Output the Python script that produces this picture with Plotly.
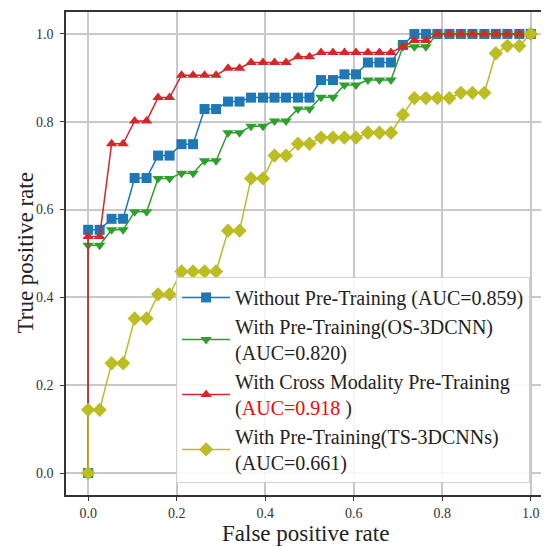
import plotly.graph_objects as go

fpr = [0, 0, 0.026, 0.053, 0.079, 0.105, 0.132, 0.158, 0.184, 0.211, 0.237,
       0.263, 0.289, 0.316, 0.342, 0.368, 0.395, 0.421, 0.447, 0.474, 0.5,
       0.526, 0.553, 0.579, 0.605, 0.632, 0.658, 0.684, 0.711, 0.737, 0.763,
       0.789, 0.816, 0.842, 0.868, 0.895, 0.921, 0.947, 0.974, 1.0]

tpr_without = [0, 0.554, 0.554, 0.579, 0.579, 0.672, 0.672, 0.723, 0.723, 0.749, 0.749,
               0.829, 0.829, 0.846, 0.846, 0.855, 0.855, 0.855, 0.855, 0.855, 0.855,
               0.895, 0.895, 0.908, 0.908, 0.935, 0.935, 0.935, 0.975, 1.0, 1.0,
               1.0, 1.0, 1.0, 1.0, 1.0, 1.0, 1.0, 1.0, 1.0]

tpr_os = [0, 0.519, 0.519, 0.554, 0.554, 0.595, 0.595, 0.671, 0.671, 0.683, 0.683,
          0.711, 0.711, 0.775, 0.775, 0.790, 0.790, 0.802, 0.802, 0.829, 0.829,
          0.856, 0.856, 0.884, 0.884, 0.895, 0.895, 0.895, 0.971, 0.971, 0.971,
          1.0, 1.0, 1.0, 1.0, 1.0, 1.0, 1.0, 1.0, 1.0]

tpr_cross = [0, 0.539, 0.539, 0.750, 0.750, 0.802, 0.802, 0.855, 0.855, 0.906, 0.906,
             0.906, 0.906, 0.922, 0.922, 0.935, 0.935, 0.935, 0.935, 0.948, 0.948,
             0.958, 0.958, 0.958, 0.958, 0.958, 0.958, 0.958, 0.971, 0.985, 0.985,
             1.0, 1.0, 1.0, 1.0, 1.0, 1.0, 1.0, 1.0, 1.0]

tpr_ts = [0, 0.144, 0.144, 0.250, 0.250, 0.352, 0.352, 0.407, 0.407, 0.459, 0.459,
          0.459, 0.459, 0.552, 0.552, 0.671, 0.671, 0.723, 0.723, 0.750, 0.750,
          0.764, 0.764, 0.764, 0.764, 0.775, 0.775, 0.775, 0.816, 0.854, 0.854,
          0.854, 0.854, 0.866, 0.866, 0.866, 0.956, 0.973, 0.973, 1.0]

names = [
    "Without Pre-Training (AUC=0.859)",
    "With Pre-Training(OS-3DCNN)<br>(AUC=0.820)",
    "With Cross Modality Pre-Training<br>(<span style='color:#ff0000'>AUC=0.918</span> )",
    "With Pre-Training(TS-3DCNNs)<br>(AUC=0.661)",
]
series = [tpr_without, tpr_os, tpr_cross, tpr_ts]
colors = ["#1f77b4", "#2ca02c", "#d62728", "#bcbd22"]
symbols = ["square", "triangle-down", "triangle-up", "diamond"]
sizes = [10, 10, 10, 11]

tick_vals = [0.0, 0.2, 0.4, 0.6, 0.8, 1.0]
tick_text = ["0.0", "0.2", "0.4", "0.6", "0.8", "1.0"]

x_title = "False positive rate"
y_title = "True positive rate"

fig = go.Figure()
for name, tpr, c, s, sz in zip(names, series, colors, symbols, sizes):
    fig.add_trace(go.Scatter(
        x=fpr, y=tpr, mode="lines+markers", name=name,
        line=dict(color=c, width=1.5),
        marker=dict(symbol=s, size=sz, color=c),
    ))

font_family = "Liberation Serif, Times New Roman, serif"
axis_common = dict(
    tickvals=tick_vals, ticktext=tick_text,
    showgrid=True, gridcolor="#c8c8c8", gridwidth=1.5,
    showline=True, linecolor="#333333", linewidth=1.5,
    ticks="outside", ticklen=4, tickwidth=1, tickcolor="#333333",
    tickfont=dict(size=14, family=font_family, color="#333333"),
    zeroline=False, automargin=False,
)
# page body adds an 8px offset, so the figure is sized to fill the rest of the window
fig.update_layout(
    width=541, height=538,
    margin=dict(l=58, r=0, t=4, b=51),
    plot_bgcolor="white", paper_bgcolor="white",
    font=dict(family=font_family, color="#222222"),
    showlegend=True,
    legend=dict(
        x=0.228, y=0.025, xanchor="left", yanchor="bottom",
        bgcolor="rgba(255,255,255,0.85)", bordercolor="#d0d0d0", borderwidth=1,
        font=dict(family=font_family, size=20, color="#222222"),
        itemwidth=48, tracegroupgap=0,
    ),
    xaxis=dict(range=[-0.05, 1.041], mirror=True, ticklabelstandoff=0, **axis_common),
    yaxis=dict(range=[-0.05, 1.05], mirror=False, ticklabelstandoff=4, **axis_common),
    annotations=[
        dict(text=x_title, xref="paper", yref="paper", x=0.4955, y=0,
             xanchor="center", yanchor="middle", yshift=-38, showarrow=False,
             font=dict(size=23, family=font_family, color="#222222")),
        dict(text=y_title, xref="paper", yref="paper", x=0, y=0.5,
             xanchor="center", yanchor="middle", xshift=-41, textangle=-90,
             showarrow=False,
             font=dict(size=23, family=font_family, color="#222222")),
    ],
)

fig.write_html("out.html")
